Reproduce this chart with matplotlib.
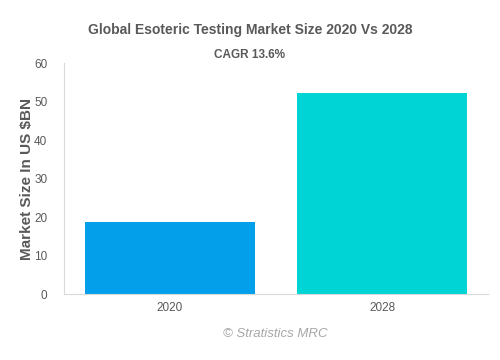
import matplotlib
matplotlib.use("Agg")
import matplotlib.pyplot as plt

plt.rcParams['font.family'] = ['Liberation Sans', 'DejaVu Sans']

years = ["2020", "2028"]
market_size = [18.7, 52.2]
bar_colors = ["#039fea", "#00d4d4"]
y_ticks = [0, 10, 20, 30, 40, 50, 60]

fig = plt.figure(figsize=(5, 3.6), dpi=100)
ax = fig.add_axes([0.128, 0.183, 0.848, 0.642])

ax.bar(years, market_size, width=0.8, color=bar_colors)
ax.set_xlim(-0.5, 1.5)
ax.set_ylim(0, 60)
ax.set_yticks(y_ticks)

for side in ["top", "right"]:
    ax.spines[side].set_visible(False)
for side in ["left", "bottom"]:
    ax.spines[side].set_color("#d9d9d9")
ax.tick_params(length=0, labelsize=8.5, colors="#595959", pad=6)
ax.tick_params(axis="y", pad=12)

ax.set_ylabel("Market Size In US $BN", fontsize=11, fontweight="bold",
              color="#595959", labelpad=0)

fig.text(0.5, 0.918, "Global Esoteric Testing Market Size 2020 Vs 2028",
         ha="center", va="center", fontsize=10, fontweight="bold", color="#595959")
fig.text(0.5, 0.847, "CAGR 13.6%", ha="center", va="center",
         fontsize=8.5, fontweight="bold", color="#595959")
fig.text(0.55, 0.072, "\u00a9 Stratistics MRC", ha="center", va="center",
         fontsize=9.5, style="italic", color="#a6a6a6")

fig.savefig("out.png", dpi=100)
